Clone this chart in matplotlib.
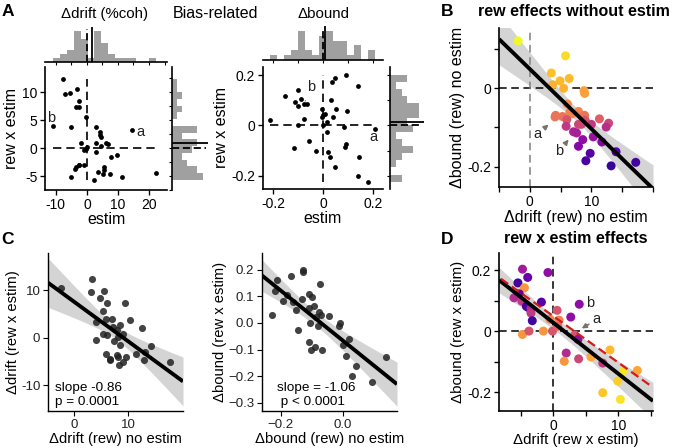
import matplotlib
matplotlib.use("Agg")
import matplotlib.pyplot as plt
import numpy as np
from matplotlib.ticker import MultipleLocator, FixedLocator, FixedFormatter

plt.rcParams['font.family'] = ['Liberation Sans', 'DejaVu Sans']
plt.rcParams['axes.unicode_minus'] = False
plt.rcParams['xtick.direction'] = 'out'
plt.rcParams['ytick.direction'] = 'out'

# ---- data ----
# A left: drift, estim effect vs rew x estim effect
a_drift_estim = [-7.8, -7.0, -5.5, -3.2, -2.4, -3.6, -2.4, -0.4, -10.8, -5.0, 2.9, 4.2, 4.3, 4.5,
                 14.5, -1.8, -0.4, 0.0, -0.8, 2.9, 2.9, 4.5, 6.3, 6.8, 7.9, 9.8, -2.7, -3.4, -3.9,
                 -2.4, -0.8, -5.2, 2.4, 3.5, 5.4, 5.6, 5.1, 7.5, 11.4, 22.3]
a_drift_rxe = [12.4, 9.6, 9.9, 10.5, 8.5, 7.4, 7.4, 5.6, 3.9, 3.7, 3.8, 2.8, 2.3, 1.9,
               3.2, 0.9, -0.1, 0.2, -0.4, 0.9, -0.7, 0.4, 0.9, 0.7, -1.6, -1.3, -3.0, -3.3, -3.7,
               -3.1, -3.1, -5.1, -5.7, -4.2, -3.9, -3.4, -4.6, -4.6, -5.1, -4.5]
# A right: bound, estim effect vs rew x estim effect
a_bound_estim = [-0.213, -0.153, -0.113, -0.100, -0.087, -0.100, -0.077, -0.064, -0.077, -0.100,
                 -0.057, -0.116, -0.027, -0.003, 0.000, 0.007, -0.003, 0.000, 0.016, 0.017,
                 0.040, 0.053, 0.033, 0.036, 0.047, 0.091, 0.140, 0.096, 0.083, 0.093,
                 0.087, 0.020, 0.027, 0.047, 0.144, 0.140, 0.180, 0.207]
a_bound_rxe = [0.023, 0.117, 0.093, 0.140, 0.107, 0.076, 0.087, 0.084, 0.027, 0.000,
               -0.060, -0.089, -0.100, 0.067, 0.040, 0.044, 0.033, 0.000, 0.013, -0.027,
               0.033, 0.067, 0.100, 0.173, 0.187, 0.200, 0.156, 0.057, -0.007, -0.073,
               -0.084, -0.107, -0.127, -0.163, -0.127, -0.200, -0.223, -0.013]

# B: reward effects without estim (colour: 0 blue .. 1 yellow)
b_drift = [-1.9, 5.8, 3.5, 4.9, 6.4, 3.7, 5.5, 8.8, 8.9, 6.1, 4.2, 4.1, 5.3, 6.5, 6.9, 7.9, 8.9,
           6.0, 5.9, 7.9, 8.4, 9.0, 10.0, 11.3, 12.8, 12.4, 7.1, 7.6, 8.6, 7.9, 10.3, 11.7,
           9.8, 9.1, 14.0, 13.2, 17.2]
b_bound = [0.121, 0.083, 0.039, 0.019, 0.025, 0.009, 0.000, -0.006, -0.013, -0.040, -0.069,
           -0.073, -0.072, -0.061, -0.065, -0.059, -0.069, -0.080, -0.097, -0.092, -0.092,
           -0.082, -0.092, -0.078, -0.089, -0.099, -0.111, -0.114, -0.131, -0.148, -0.124,
           -0.137, -0.166, -0.185, -0.162, -0.198, -0.189]
b_color = [1.00, 0.93, 0.87, 0.85, 0.85, 0.83, 0.83, 0.78, 0.78, 0.72, 0.65,
           0.65, 0.65, 0.70, 0.70, 0.70, 0.65, 0.55, 0.45, 0.50, 0.50,
           0.55, 0.45, 0.58, 0.50, 0.42, 0.38, 0.36, 0.30, 0.27, 0.32,
           0.28, 0.15, 0.12, 0.15, 0.08, 0.10]

# C left: drift (rew) no estim vs drift (rew x estim)
c_drift_x = [-2.4, 3.4, 3.1, 5.6, 4.8, 6.2, 9.5, 5.3, 4.0, 5.9, 7.1, 10.3, 8.5, 5.3, 6.1, 8.0,
             9.0, 7.5, 4.0, 8.6, 12.6, 14.3, 5.9, 6.6, 6.7, 7.9, 8.2, 8.3, 9.0, 9.7, 11.5,
             13.0, 13.2, 17.7, 7.2, 8.2]
c_drift_y = [10.6, 12.5, 9.7, 9.9, 8.5, 7.4, 7.4, 5.7, 3.4, 3.9, 3.9, 3.7, 2.7, 0.9, 0.6, 1.6,
             0.9, -0.6, -0.5, -1.5, 2.0, -1.8, -3.3, -4.4, -4.7, -3.6, -4.0, -5.8, -5.1, -4.0,
             -3.4, -4.6, -2.9, -5.1, 2.3, 0.2]
# C right: bound (rew) no estim vs bound (rew x estim)
c_bound_x = [-0.230, -0.214, -0.219, -0.192, -0.168, -0.182, -0.160, -0.151, -0.128, -0.128,
             -0.144, -0.133, -0.111, -0.100, -0.109, -0.092, -0.106, -0.111, -0.104, -0.090,
             -0.088, -0.081, -0.076, -0.071, -0.074, -0.068, -0.046, -0.014, -0.009, 0.018,
             0.000, 0.011, 0.043, 0.029, 0.094, 0.139]
c_bound_y = [0.031, 0.160, 0.119, 0.081, 0.175, 0.103, 0.078, 0.048, 0.200, 0.190,
             -0.025, 0.088, 0.110, 0.098, 0.056, 0.065, 0.000, -0.073, -0.103, -0.090,
             0.023, -0.010, 0.040, 0.028, 0.144, -0.100, 0.025, -0.010, 0.000, -0.060,
             -0.081, -0.125, -0.163, -0.200, -0.223, -0.128]

# D: rew x estim effects (colour = session colour as in B, 0 blue .. 1 yellow)
d_drift = [-4.7, -5.4, -3.9, -0.8, -4.4, -5.2, -6.0, -4.8, -4.1, -3.8, -3.4, -3.4, -3.2, -1.8,
           -4.7, -3.7, -1.5, -0.1, -0.5, 0.6, 0.9, 0.7, 2.7, 4.0, 3.3, 3.8, 2.0, 1.7, 3.9,
           5.8, 8.7, 7.6, 10.8, 12.9, 9.9, 7.6, 10.3]
d_bound = [0.203, 0.158, 0.176, 0.192, 0.142, 0.122, 0.109, 0.098, 0.081, 0.077, 0.074, 0.059,
           0.034, 0.095, -0.011, 0.000, 0.000, 0.000, 0.039, 0.068, 0.036, 0.016, 0.046, 0.088,
           -0.013, -0.027, -0.072, -0.099, -0.091, -0.085, -0.062, -0.105, -0.130, -0.129,
           -0.164, -0.202, -0.224]
d_color = [0.35, 0.10, 0.20, 0.30, 0.75, 0.15, 0.40, 0.45, 0.10, 0.12, 0.40, 0.45, 0.10, 0.15,
           0.75, 0.55, 0.75, 0.55, 0.70, 0.55, 0.70, 0.60, 0.30, 0.30, 0.55, 0.30, 0.40, 0.75,
           0.50, 0.80, 0.85, 0.45, 0.95, 0.80, 0.90, 0.88, 0.95]

W, H = 676, 448
fig = plt.figure(figsize=(W / 100, H / 100), dpi=100)


def add_ax(l, t, r, b):
    return fig.add_axes([l / W, 1 - b / H, (r - l) / W, (b - t) / H])


def clean(ax, lw=1.2, ls=10):
    for s in ['top', 'right']:
        ax.spines[s].set_visible(False)
    for s in ['left', 'bottom']:
        ax.spines[s].set_linewidth(lw)
    ax.tick_params(width=lw * 0.8, length=3.5, labelsize=ls, pad=2)


def fit_band(ax, x, y, xr, lw=2.8):
    x = np.asarray(x)
    y = np.asarray(y)
    slope, icpt = np.polyfit(x, y, 1)
    xs = np.linspace(xr[0], xr[1], 200)
    yh = icpt + slope * xs
    n = len(x)
    s = np.sqrt(np.sum((y - (icpt + slope * x)) ** 2) / (n - 2))
    se = s * np.sqrt(1 / n + (xs - x.mean()) ** 2 / np.sum((x - x.mean()) ** 2))
    ax.fill_between(xs, yh - 2.03 * se, yh + 2.03 * se, color='#d4d4d4', lw=0, zorder=1)
    ax.plot(xs, yh, color='black', lw=lw, zorder=4, solid_capstyle='butt')
    return slope, icpt


def scatter_hist(rect_main, rect_top, rect_right, x, y, xlim, ylim, xt, yt, xstep, ystep):
    ax = add_ax(*rect_main)
    ax.scatter(x, y, s=12, color='black', zorder=3, lw=0)
    ax.plot([min(x), max(x)], [0, 0], ls=(0, (5, 3)), color='black', lw=1.2)
    ax.plot([0, 0], [min(y), max(y)], ls=(0, (5, 3)), color='black', lw=1.2)
    ax.set_xlim(xlim)
    ax.set_ylim(ylim)
    ax.set_xticks(xt)
    ax.set_xticklabels([f'{v:g}' for v in xt])
    ax.set_yticks(yt)
    ax.set_yticklabels([f'{v:g}' for v in yt])
    clean(ax)
    ax.set_xlabel('estim', fontsize=11.5, labelpad=0)
    ax.set_ylabel('rew x estim', fontsize=11.5, labelpad=2)

    axt = add_ax(*rect_top)
    cnt, _, _ = axt.hist(x, bins=15, color='#a0a0a0', lw=0)
    axt.set_xlim(xlim)
    axt.set_ylim(0, cnt.max() * 1.2)
    axt.vlines(0, 0, cnt.max() * 1.08, color='black', ls=(0, (4, 2)), lw=1.3)
    axt.vlines(np.mean(x), 0, cnt.max() * 1.15, color='black', lw=1.3)
    for s in ['top', 'right', 'left']:
        axt.spines[s].set_visible(False)
    axt.spines['bottom'].set_linewidth(1.2)
    axt.set_yticks([])
    axt.xaxis.set_major_locator(MultipleLocator(xstep))
    axt.tick_params(axis='x', length=2, width=0.8, labelbottom=False)

    axr = add_ax(*rect_right)
    cnt, _, _ = axr.hist(y, bins=15, color='#a0a0a0', lw=0, orientation='horizontal')
    axr.set_ylim(ylim)
    axr.set_xlim(0, cnt.max() * 1.18)
    axr.hlines(0, 0, cnt.max() * 1.12, color='black', ls=(0, (4, 2)), lw=1.3)
    axr.hlines(np.mean(y), 0, cnt.max() * 1.18, color='black', lw=1.3)
    for s in ['top', 'right', 'bottom']:
        axr.spines[s].set_visible(False)
    axr.spines['left'].set_linewidth(1.2)
    axr.set_xticks([])
    axr.yaxis.set_major_locator(MultipleLocator(ystep))
    axr.tick_params(axis='y', length=2, width=0.8, labelleft=False)
    return ax


# ---- panel A ----
axA1 = scatter_hist((45, 67, 167, 190), (45, 25, 167, 62), (172, 67, 208, 190),
                    a_drift_estim, a_drift_rxe, (-13.5, 25.8), (-7.5, 14.5),
                    [-10, 0, 10, 20], [-5, 0, 5, 10], 5, 2.5)
axA1.text(-11.4, 5.3, 'b', fontsize=10.5, ha='center', va='center', color='#222222')
axA1.text(17.2, 2.9, 'a', fontsize=10.5, ha='center', va='center', color='#222222')

axA2 = scatter_hist((263, 67, 383, 189), (263, 25, 383, 60), (390, 67, 424, 189),
                    a_bound_estim, a_bound_rxe, (-0.24, 0.24), (-0.252, 0.232),
                    [-0.2, 0, 0.2], [-0.2, 0, 0.2], 0.1, 0.1)
axA2.annotate('b', xy=(-0.071, 0.097), xytext=(-0.047, 0.152), fontsize=10.5, ha='center',
              va='center', color='#222222',
              arrowprops=dict(arrowstyle='-', color='#555555', lw=0.8, shrinkA=3, shrinkB=1))
axA2.text(0.203, -0.047, 'a', fontsize=10.5, ha='center', va='center', color='#222222')

fig.text(105 / W, 1 - 14 / H, 'Δdrift (%coh)', fontsize=10.8, ha='center', va='center')
fig.text(215 / W, 1 - 14 / H, 'Bias-related', fontsize=11.5, ha='center', va='center')
fig.text(323 / W, 1 - 14 / H, 'Δbound', fontsize=10.8, ha='center', va='center')

# ---- panel B ----
axB = add_ax(499, 28, 653, 187)
xlimB = (-5, 20)
b_slope, b_icpt = fit_band(axB, b_drift, b_bound, xlimB)
axB.axhline(0, color='black', ls=(0, (5, 3)), lw=1.1, zorder=2)
axB.axvline(0, color='#808080', ls=(0, (5, 3)), lw=1.1, zorder=2)
axB.scatter(b_drift, b_bound, s=42, c=b_color, cmap='plasma', vmin=0, vmax=1, lw=0, zorder=3)
axB.set_xlim(xlimB)
axB.set_ylim(-0.252, 0.154)
axB.xaxis.set_major_locator(FixedLocator([-5, 0, 5, 10, 15, 20]))
axB.xaxis.set_major_formatter(FixedFormatter(['', '0', '', '10', '', '']))
axB.yaxis.set_major_locator(FixedLocator([-0.2, -0.1, 0, 0.1]))
axB.yaxis.set_major_formatter(FixedFormatter(['-0.2', '', '0', '']))
clean(axB)
axB.set_xlabel('Δdrift (rew) no estim', fontsize=11.5, labelpad=1)
axB.set_ylabel('Δbound (rew) no estim', fontsize=11.5, labelpad=2)
arr = dict(arrowstyle='-|>', color='#7a7266', lw=1.2, mutation_scale=7, shrinkA=1, shrinkB=2)
axB.annotate('a', xy=(3.4, -0.088), xytext=(1.3, -0.116), fontsize=10.5, ha='center',
             va='center', color='#222222', arrowprops=arr)
axB.annotate('b', xy=(6.3, -0.131), xytext=(4.8, -0.160), fontsize=10.5, ha='center',
             va='center', color='#222222', arrowprops=arr)
fig.text(574 / W, 1 - 11 / H, 'rew effects without estim', fontsize=11.5, fontweight='bold',
         ha='center', va='center')

# ---- panel C ----
axC1 = add_ax(48, 253, 183, 411)
xlimC1 = (-4.8, 20.2)
fit_band(axC1, c_drift_x, c_drift_y, xlimC1)
axC1.scatter(c_drift_x, c_drift_y, s=26, color='#222222', alpha=0.85, lw=0, zorder=3)
axC1.set_xlim(xlimC1)
axC1.set_ylim(-15.4, 17.9)
axC1.set_xticks([0, 10])
axC1.set_yticks([-10, 0, 10])
clean(axC1, lw=1.0, ls=9.5)
axC1.tick_params(labelcolor='#222222')
axC1.set_xlabel('Δdrift (rew) no estim', fontsize=10.6, labelpad=1)
axC1.set_ylabel('Δdrift (rew x estim)', fontsize=10.6, labelpad=1)
axC1.text(0.05, 0.02, 'slope -0.86\np = 0.0001', transform=axC1.transAxes, fontsize=9.7,
          ha='left', va='bottom', linespacing=1.15)

axC2 = add_ax(262, 253, 397, 411)
xlimC2 = (-0.261, 0.174)
fit_band(axC2, c_bound_x, c_bound_y, xlimC2)
axC2.scatter(c_bound_x, c_bound_y, s=26, color='#222222', alpha=0.85, lw=0, zorder=3)
axC2.set_xlim(xlimC2)
axC2.set_ylim(-0.33, 0.262)
axC2.set_xticks([-0.2, 0.0])
axC2.set_xticklabels(['\u22120.2', '0.0'])
yC2 = [-0.3, -0.2, -0.1, 0.0, 0.1, 0.2]
axC2.set_yticks(yC2)
axC2.set_yticklabels([f'{v:.1f}'.replace('-', '\u2212') for v in yC2])
clean(axC2, lw=1.0, ls=9.5)
axC2.tick_params(labelcolor='#222222')
axC2.set_xlabel('Δbound (rew) no estim', fontsize=10.6, labelpad=1)
axC2.set_ylabel('Δbound (rew x estim)', fontsize=10.6, labelpad=1)
axC2.text(0.11, 0.02, 'slope = -1.06\n p < 0.0001', transform=axC2.transAxes, fontsize=9.7,
          ha='left', va='bottom', linespacing=1.15)

# ---- panel D ----
axD = add_ax(499, 253, 653, 411)
xlimD = (-8.3, 15.3)
fit_band(axD, d_drift, d_bound, xlimD)
axD.axhline(0, color='black', ls=(0, (5, 3)), lw=1.1, zorder=2)
axD.axvline(0, color='black', ls=(0, (5, 3)), lw=1.1, zorder=2)
xr = np.array([-8.0, 14.9])
axD.plot(xr, b_icpt + b_slope * xr, color='#d41a1a', ls=(0, (4, 2)), lw=1.6, zorder=5)
axD.scatter(d_drift, d_bound, s=42, c=d_color, cmap='plasma', vmin=0, vmax=1, lw=0, zorder=3)
axD.set_xlim(xlimD)
axD.set_ylim(-0.262, 0.256)
axD.xaxis.set_major_locator(FixedLocator([-5, 0, 5, 10, 15]))
axD.xaxis.set_major_formatter(FixedFormatter(['', '0', '', '10', '']))
axD.yaxis.set_major_locator(FixedLocator([-0.2, -0.1, 0, 0.1, 0.2]))
axD.yaxis.set_major_formatter(FixedFormatter(['-0.2', '', '0', '', '0.2']))
clean(axD)
axD.set_xlabel('Δdrift (rew x estim)', fontsize=10.8, labelpad=0)
axD.set_ylabel('Δbound (rew x estim)', fontsize=10.8, labelpad=2)
axD.annotate('a', xy=(4.0, 0.004), xytext=(6.7, 0.038), fontsize=10.5, ha='center',
             va='center', color='#222222', arrowprops=arr)
axD.text(5.6, 0.092, 'b', fontsize=10.5, ha='center', va='center', color='#222222')
fig.text(576 / W, 1 - 238 / H, 'rew x estim effects', fontsize=11.5, fontweight='bold',
         ha='center', va='center')

# panel letters
for lab, x, y in [('A', 8, 12), ('B', 447, 12), ('C', 8, 239), ('D', 447, 239)]:
    fig.text(x / W, 1 - y / H, lab, fontsize=12.5, fontweight='bold', ha='center', va='center')

fig.savefig('out.png', dpi=100)
